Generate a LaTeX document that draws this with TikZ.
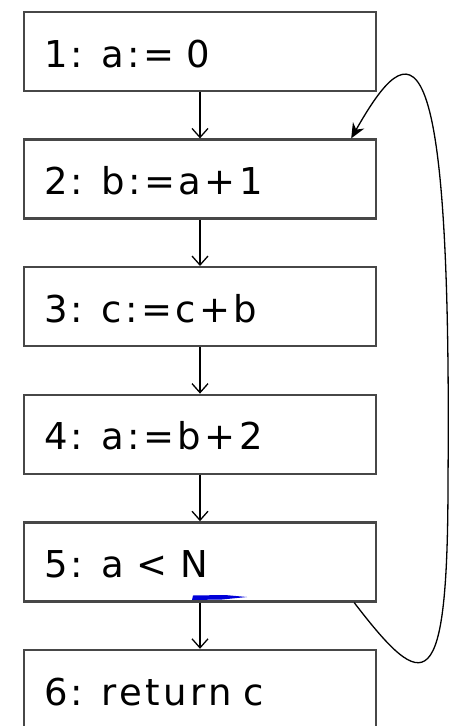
\documentclass[tikz,border=0pt]{standalone}
\usepackage{fontspec}
\setmainfont{DejaVu Sans}
\newfontfamily\stmtfont[LetterSpace=9]{DejaVu Sans}
\usetikzlibrary{arrows.meta}

\begin{document}
\begin{tikzpicture}[
  x=1pt, y=-1pt,
  stmt/.style={draw=black!72, line width=2.4pt, minimum height=79pt, text width=312pt,
    inner xsep=20pt, align=left, text height=31pt, text depth=0pt,
    font=\stmtfont\fontsize{37}{44}\selectfont},
  arr/.style={-{Straight Barb[length=9pt, width=16pt]}, line width=1.3pt},
  back/.style={-{Stealth[length=15pt, width=13pt]}, line width=1.3pt}
]
  \useasboundingbox (0,0) rectangle (454,726);

  % basic blocks
  \node[stmt] (n1) at (200, 51.5) {1: a:= 0};
  \node[stmt] (n2) at (200,179.1) {2: b:=a+1};
  \node[stmt] (n3) at (200,306.7) {3: c:=c+b};
  \node[stmt] (n4) at (200,434.3) {4: a:=b+2};
  \node[stmt] (n5) at (200,561.9) {5: a < N};
  \node[stmt] (n6) at (200,689.5) {6: return c};

  % fall-through edges
  \draw[arr] (n1) -- (n2);
  \draw[arr] (n2) -- (n3);
  \draw[arr] (n3) -- (n4);
  \draw[arr] (n4) -- (n5);
  \draw[arr] (n5) -- (n6);

  % loop back edge
  \draw[back] ([xshift=-23pt]n5.south east) .. controls (425,695) and (448,700) .. (448,480)
    .. controls (452,10) and (410,35) .. ([xshift=-26pt]n2.north east);

  % blue mark under N
  \fill[blue!85!black] (192,600) -- (193,595.5) -- (225,595) -- (247,597) -- (222,599.5) -- cycle;
\end{tikzpicture}
\end{document}
